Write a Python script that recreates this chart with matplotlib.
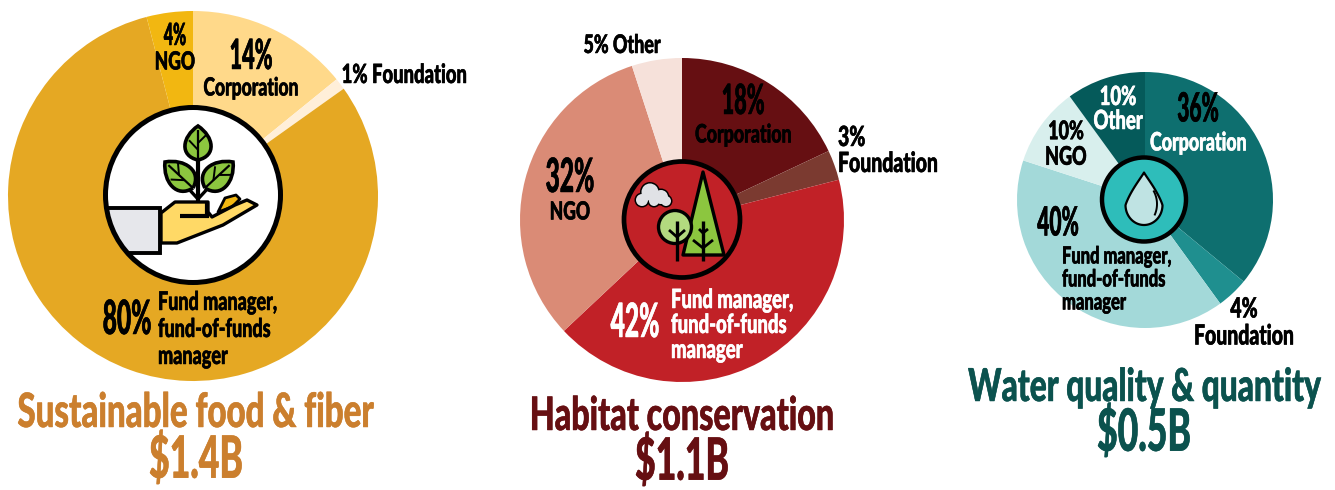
import matplotlib
matplotlib.use("Agg")
import matplotlib.pyplot as plt
from matplotlib.patches import Circle, Polygon, PathPatch
from matplotlib.path import Path
from matplotlib import font_manager as fm
from matplotlib import patheffects as pe
import numpy as np

W, H = 1335, 490

food_values = [14, 1, 80, 4]
food_colors = ["#FFD98A", "#FFEFD9", "#E5A823", "#F2B711"]
habitat_values = [18, 3, 42, 32, 5]
habitat_colors = ["#660F12", "#7B3A30", "#C12127", "#DA8B76", "#F6E1DA"]
water_values = [36, 4, 40, 10, 10]
water_colors = ["#0E6F6F", "#1F8F8F", "#A3D9D9", "#D8EFED", "#055A5A"]


def make_condensed(base, weight, sx, name):
    """Narrow an installed face, so that all text stays real text in a condensed font."""
    path = fm.findfont(fm.FontProperties(family=base, weight=weight))
    try:
        from fontTools.ttLib import TTFont
        f = TTFont(path)
        if "fvar" in f or "glyf" not in f:
            raise ValueError
        glyf, hmtx = f["glyf"], f["hmtx"]
        order = f.getGlyphOrder()
        for gn in order:
            g = glyf[gn]
            if g.numberOfContours > 0:
                g.coordinates.scale((sx, 1))
                g.coordinates.toInt()
        for gn in order:
            g = glyf[gn]
            if g.isComposite():
                for c in g.components:
                    c.x = int(round(c.x * sx))
        for gn in order:
            glyf[gn].recalcBounds(glyf)
            adv, lsb = hmtx[gn]
            hmtx[gn] = (int(round(adv * sx)), int(round(lsb * sx)))
        for tag in ("fpgm", "prep", "cvt ", "kern", "GPOS", "GSUB", "GDEF", "hdmx", "VDMX", "LTSH"):
            if tag in f:
                del f[tag]
        for rec in f["name"].names:
            if rec.nameID in (1, 4, 16):
                rec.string = name
            elif rec.nameID in (2, 17):
                rec.string = "Regular"
            elif rec.nameID == 6:
                rec.string = name + "-Regular"
        out = name + ".ttf"
        f.save(out)
        fm.fontManager.addfont(out)
        return name
    except Exception:
        return "DejaVu Sans"


LABEL = make_condensed("Lato", 900, 0.7, "CondLabel")
PCT = make_condensed("Lato", 900, 0.52, "CondPct")
AMT = make_condensed("Lato", 900, 0.61, "CondAmt")

fig = plt.figure(figsize=(W / 100, H / 100), dpi=100)
ax = fig.add_axes([0, 0, 1, 1])


def Y(y):
    return H - y


def pie(values, colors, cx, cy, r):
    ax.pie(values, colors=colors, center=(cx, Y(cy)), radius=r, startangle=90,
           counterclock=False, normalize=True, frame=True,
           wedgeprops=dict(linewidth=0))


def T(x, y, s, size, color="black", ha="center", lh=1.0, font=LABEL):
    ax.text(x, Y(y), s, fontsize=size, color=color, ha=ha, va="center",
            family=font, linespacing=lh, zorder=20,
            path_effects=[pe.withStroke(linewidth=0.35, foreground=color)])


def poly(pts, fc, ec="black", lw=2.0, z=10):
    p = Polygon([(x, Y(y)) for x, y in pts], closed=True, facecolor=fc,
                edgecolor=ec, linewidth=lw, joinstyle="round", zorder=z)
    ax.add_patch(p)
    return p


def line(pts, color="black", lw=2.0, z=11):
    return ax.plot([p[0] for p in pts], [Y(p[1]) for p in pts], color=color, lw=lw, zorder=z,
                   solid_capstyle="butt", solid_joinstyle="miter")[0]


def circ(x, y, r, fc, ec="black", lw=3.0, z=9):
    c = Circle((x, Y(y)), r, facecolor=fc, edgecolor=ec, linewidth=lw, zorder=z)
    ax.add_patch(c)
    return c


def leaf(x0, y0, x1, y1, w):
    p0, p1 = np.array([x0, y0], float), np.array([x1, y1], float)
    d = p1 - p0
    n = np.array([-d[1], d[0]]) / np.hypot(*d) * w
    a, b = p0 + 0.12 * d + n * 1.55, p0 + 0.68 * d + n * 1.35
    c, e = p0 + 0.68 * d - n * 1.35, p0 + 0.12 * d - n * 1.55
    pts = [p0, a, b, p1, c, e, p0]
    verts = [(q[0], Y(q[1])) for q in pts]
    codes = [Path.MOVETO] + [Path.CURVE4] * 6
    ax.add_patch(PathPatch(Path(verts, codes), facecolor="#8CC63F", edgecolor="black", lw=2.6, zorder=11))
    m = p0 + 0.5 * d
    line([tuple(p0), tuple(p0 + 0.88 * d)], lw=1.6, z=12)
    line([tuple(m), tuple(m + 0.26 * d + n * 0.75)], lw=1.4, z=12)
    line([tuple(m - 0.2 * d), tuple(m + 0.08 * d - n * 0.75)], lw=1.4, z=12)


# ---- pies ----
pie(food_values, food_colors, 193, 196, 185)
pie(habitat_values, habitat_colors, 682, 220, 162)
pie(water_values, water_colors, 1145, 200, 128)
ax.set_xlim(0, W)
ax.set_ylim(0, H)
ax.set_aspect("equal")
ax.axis("off")

# ---- icon 1 : hand and plant ----
circ(193, 195, 87.5, "white", ec="none", lw=0)
clipc = Circle((193, Y(195)), 87.5, transform=ax.transData)
s1 = poly([(100, 208), (160, 208), (160, 253), (100, 253)], "#E6E7EB", ec="none", lw=0)
s1.set_clip_path(clipc)
line([(100, 208), (160, 208), (160, 253), (100, 253)], lw=2.8).set_clip_path(clipc)
poly([(218, 212), (225, 198), (236, 195), (240, 199), (232, 207)], "#F2B711", lw=2.0, z=9.5)
poly([(161, 213), (175, 202), (208, 202), (208, 212), (212, 217), (235, 205), (247, 200), (257, 205),
      (223, 225), (177, 243), (161, 243)], "#FFD966", lw=2.4)
line([(180, 216), (207, 216), (207, 203)], lw=3.0)
line([(198, 150), (198, 202)], lw=3.0)
line([(198, 199), (186, 186)], lw=2.4)
line([(198, 199), (210, 186)], lw=2.4)
leaf(198, 160, 198, 126, 12)
leaf(193, 188, 165, 162, 12)
leaf(205, 188, 233, 162, 12)
circ(193, 195, 87.5, "none", lw=3.6, z=13)

# ---- icon 2 : trees and cloud ----
circ(682, 219.5, 58, "#C12127", lw=3.4)
poly([(703, 172), (724, 255), (683, 255)], "#8CC63F", lw=2.4)
cloud = [(650, 192, 8.5), (661, 197, 7), (642, 200, 6), (666, 201, 5), (654, 201, 5)]
for x, y, r in cloud:
    circ(x, y, r + 1.5, "black", ec="none", lw=0, z=10)
for x, y, r in cloud:
    circ(x, y, r, "#E0E2E6", ec="none", lw=0, z=10.2)
circ(675, 227, 16.5, "#B3DA7F", lw=2.4, z=11)
line([(677, 221), (677, 261)], lw=2.4, z=12)
line([(669, 230), (677, 237), (685, 230)], lw=2.0, z=12)
line([(703, 221), (703, 261)], lw=2.4, z=12)
line([(699, 229), (703, 233), (708, 229)], lw=2.0, z=12)
line([(693, 240), (703, 248), (713, 240)], lw=2.0, z=12)

# ---- icon 3 : drop ----
circ(1144, 199.5, 42, "#2EBDBA", lw=3.2)
t = np.linspace(0, 2 * np.pi, 120)
upper = np.cos(t) > 0
dx = 1144 + 18.5 * np.sin(t) * np.where(upper, (1 - np.cos(t)) ** 0.6, 1)
dy = 205 - np.where(upper, 32.5 * np.cos(t), 20 * np.cos(t))
poly(list(zip(dx, dy)), "#BFE3E3", lw=1.6)
a = np.radians(np.linspace(-30, 25, 24))
line(list(zip(1130 + 27 * np.cos(a), 204 + 27 * np.sin(a))), lw=1.4, z=12)

# ---- labels, pie 1 ----
T(251, 57, "14%", 30, font=PCT)
T(251, 88, "Corporation", 18)
T(404, 75, "1% Foundation", 19)
T(175, 36, "4%", 22, font=PCT)
T(175, 62, "NGO", 18)
T(127, 320, "80%", 34, font=PCT)
T(158, 329, "Fund manager,\nfund-of-funds\nmanager", 18.5, ha="left", lh=1.15)

# ---- labels, pie 2 ----
T(743, 102, "18%", 30, font=PCT)
T(743, 135, "Corporation", 18.3)
T(838, 151, "3%\nFoundation", 20, ha="left", lh=1.0)
T(622, 45, "5% Other", 18.4)
T(570, 178, "32%", 34, font=PCT)
T(570, 212, "NGO", 18)
T(635, 323, "42%", 34, color="white", font=PCT)
T(671, 325, "Fund manager,\nfund-of-funds\nmanager", 19, color="white", ha="left", lh=1.05)

# ---- labels, pie 3 ----
T(1198, 110, "36%", 29, font=PCT)
T(1198, 143, "Corporation", 18.3, color="white")
T(1244, 323, "4%\nFoundation", 20, lh=1.05)
T(1118, 109, "10%\nOther", 19, color="white", lh=1.0)
T(1066, 144, "10%\nNGO", 18.5, lh=1.08)
T(1058, 224, "40%", 29, font=PCT)
T(1062, 279, "Fund manager,\nfund-of-funds\nmanager", 17, ha="left", lh=1.0)

# ---- titles ----
T(196, 413, "Sustainable food & fiber", 34, color="#CB7F2E")
T(196, 461, "$1.4B", 42, color="#CB7F2E", font=AMT)
T(682, 417, "Habitat conservation", 33.2, color="#660F12")
T(682, 463, "$1.1B", 42, color="#660F12", font=AMT)
T(1144, 388, "Water quality & quantity", 32.6, color="#0B524E")
T(1144, 434, "$0.5B", 42, color="#0B524E", font=AMT)

fig.savefig("out.png", dpi=100)
